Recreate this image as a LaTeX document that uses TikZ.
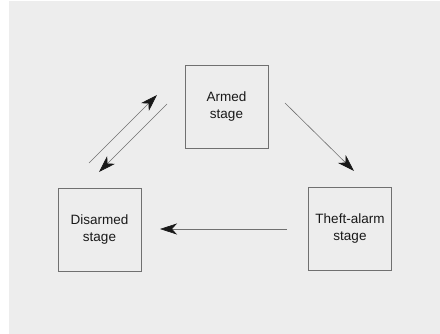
\documentclass[tikz,border=0pt]{standalone}
\usepackage{fontspec}
\setmainfont{Liberation Sans}
\usetikzlibrary{arrows.meta}
\definecolor{bggray}{HTML}{EDEDED}
\definecolor{linegray}{HTML}{707070}
\tikzset{
    stagebox/.style={draw=linegray, line width=0.8pt, minimum width=83pt, minimum height=83pt,
        align=center, font=\fontsize{13.5}{17}\selectfont, text=black!90},
    flow/.style={draw=linegray, line width=0.6pt,
        -{Stealth[length=17pt, width=11pt, inset=5pt, color=black!90]}}
}
\begin{document}
\begin{tikzpicture}[x=1pt, y=-1pt]
    \useasboundingbox (0,0) rectangle (440,334);
    \fill[bggray] (9,1) rectangle (440,334);

    \node[stagebox] (armed) at (226.5,107) {Armed\\stage};
    \node[stagebox] (disarmed) at (99.5,229.5) {Disarmed\\stage};
    \node[stagebox] (theft) at (350,228.5) {Theft-alarm\\stage};

    % free ends of the connectors
    \coordinate (d1) at (89,163);
    \coordinate (a1) at (157,95);
    \coordinate (a2) at (167,104);
    \coordinate (d2) at (99,172);
    \coordinate (a3) at (285,103);
    \coordinate (t1) at (354,171);
    \coordinate (t2) at (287,229);
    \coordinate (d3) at (160,229);

    \draw[flow] (d1) -- (a1);
    \draw[flow] (a2) -- (d2);
    \draw[flow] (a3) -- (t1);
    \draw[flow] (t2) -- (d3);
\end{tikzpicture}
\end{document}
